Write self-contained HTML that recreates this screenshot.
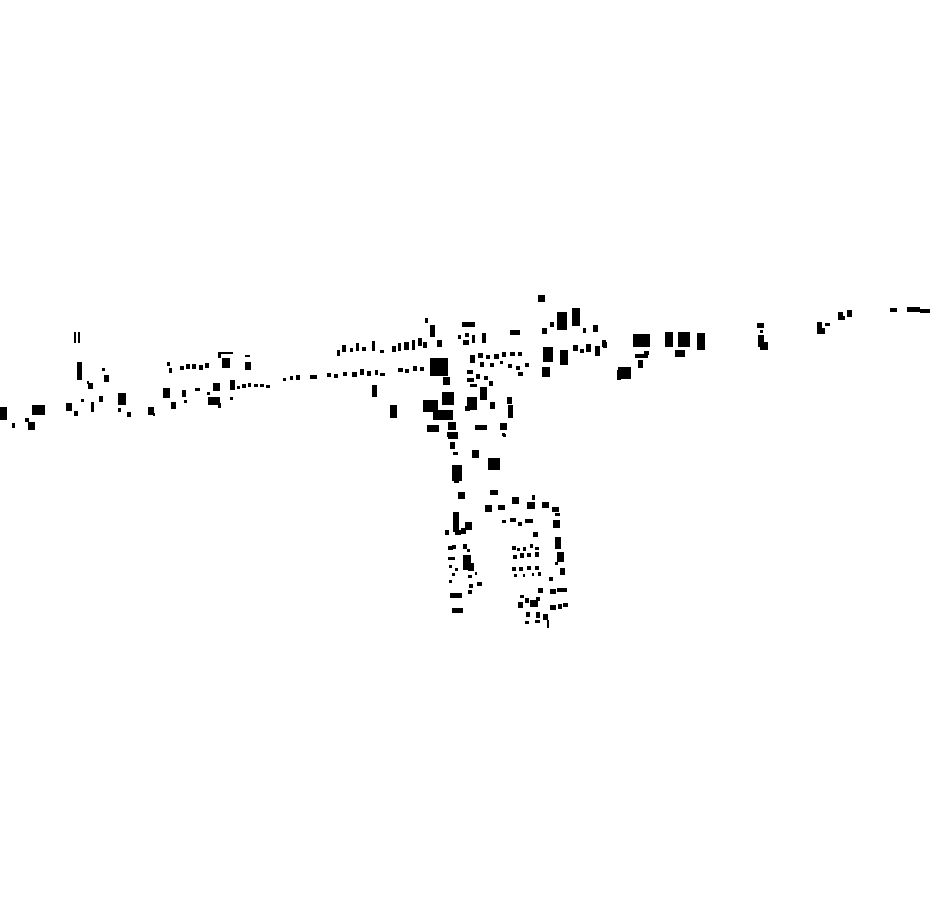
<!DOCTYPE html>
<html><head><style>html,body{margin:0;padding:0;background:#fff}svg{display:block}</style></head>
<body>
<svg width="930" height="924" viewBox="0 0 930 924" xmlns="http://www.w3.org/2000/svg">
<rect width="930" height="924" fill="#fff"/>
<g fill="#000">
<!-- left -->
<rect x="74" y="332" width="2" height="11"/><rect x="78" y="332" width="2" height="11"/>
<rect x="77" y="362" width="5" height="18"/><rect x="87" y="381" width="2" height="3"/><rect x="88" y="383" width="5" height="6"/>
<rect x="102" y="368" width="3" height="3"/><rect x="104" y="375" width="5" height="7"/>
<rect x="0" y="407" width="7" height="13"/><rect x="12" y="423" width="3" height="5"/>
<rect x="32" y="405" width="13" height="10"/><rect x="25" y="418" width="4" height="4"/><rect x="28" y="422" width="7" height="8"/>
<rect x="66" y="403" width="6" height="8"/><rect x="74" y="411" width="4" height="5"/><rect x="81" y="399" width="3" height="3"/>
<rect x="91" y="402" width="3" height="10"/><rect x="99" y="396" width="4" height="6"/>
<rect x="118" y="393" width="8" height="12"/><rect x="118" y="408" width="3" height="4"/><rect x="127" y="412" width="4" height="5"/>
<rect x="148" y="407" width="6" height="8"/><rect x="153" y="413" width="2" height="3"/>
<rect x="163" y="388" width="7" height="10"/><rect x="171" y="402" width="5" height="7"/>
<rect x="182" y="390" width="4" height="7"/><rect x="184" y="400" width="3" height="3"/>
<rect x="195" y="388" width="5" height="3"/><rect x="207" y="392" width="3" height="3"/>
<rect x="208" y="397" width="12" height="8"/><rect x="218" y="403" width="3" height="5"/><rect x="213" y="383" width="7" height="8"/>
<rect x="230" y="380" width="5" height="10"/><rect x="230" y="397" width="3" height="3"/>
<rect x="237" y="386" width="3" height="3"/><rect x="242" y="384" width="4" height="4"/><rect x="248" y="383" width="3" height="4"/><rect x="254" y="384" width="4" height="3"/><rect x="260" y="384" width="4" height="3"/><rect x="266" y="385" width="4" height="3"/>
<rect x="283" y="378" width="3" height="3"/><rect x="290" y="376" width="3" height="4"/><rect x="296" y="375" width="4" height="5"/>
<rect x="310" y="375" width="7" height="4"/>
<rect x="167" y="362" width="3" height="4"/><rect x="169" y="368" width="3" height="5"/>
<rect x="180" y="366" width="4" height="4"/><rect x="186" y="364" width="4" height="5"/><rect x="192" y="364" width="4" height="5"/><rect x="199" y="365" width="4" height="5"/><rect x="205" y="363" width="4" height="5"/>
<rect x="218" y="352" width="15" height="2"/><rect x="218" y="353" width="3" height="5"/><rect x="222" y="358" width="8" height="10"/>
<rect x="245" y="355" width="5" height="2"/><rect x="245" y="362" width="6" height="8"/>
<!-- middle -->
<rect x="538" y="295" width="7" height="7"/>
<rect x="557" y="312" width="10" height="18"/><rect x="572" y="308" width="8" height="18"/><rect x="550" y="322" width="4" height="5"/><rect x="542" y="328" width="5" height="6"/><rect x="583" y="328" width="3" height="5"/><rect x="593" y="325" width="5" height="7"/>
<rect x="462" y="322" width="13" height="5"/>
<rect x="425" y="318" width="3" height="5"/><rect x="430" y="325" width="5" height="12"/><rect x="437" y="340" width="5" height="7"/>
<rect x="337" y="350" width="3" height="6"/><rect x="342" y="345" width="4" height="7"/><rect x="350" y="348" width="3" height="4"/><rect x="356" y="343" width="3" height="8"/><rect x="362" y="347" width="4" height="4"/><rect x="372" y="341" width="3" height="10"/><rect x="380" y="350" width="4" height="3"/>
<rect x="392" y="346" width="4" height="6"/><rect x="398" y="343" width="3" height="8"/><rect x="404" y="342" width="5" height="8"/><rect x="412" y="340" width="3" height="10"/><rect x="418" y="338" width="4" height="8"/><rect x="423" y="342" width="4" height="6"/>
<rect x="327" y="373" width="4" height="4"/><rect x="334" y="374" width="4" height="4"/><rect x="343" y="372" width="4" height="4"/><rect x="352" y="372" width="5" height="5"/><rect x="360" y="369" width="4" height="6"/><rect x="367" y="371" width="4" height="5"/><rect x="375" y="370" width="3" height="5"/><rect x="380" y="373" width="5" height="3"/><rect x="398" y="368" width="5" height="4"/><rect x="405" y="369" width="4" height="4"/><rect x="413" y="366" width="4" height="5"/><rect x="420" y="367" width="4" height="4"/>
<rect x="430" y="358" width="18" height="18"/><rect x="443" y="377" width="7" height="8"/>
<rect x="372" y="385" width="5" height="12"/><rect x="390" y="405" width="7" height="13"/>
<rect x="423" y="400" width="15" height="12"/><rect x="442" y="392" width="12" height="13"/><rect x="433" y="410" width="20" height="10"/><rect x="427" y="425" width="12" height="7"/><rect x="448" y="422" width="8" height="8"/><rect x="447" y="432" width="10" height="5"/>
<rect x="458" y="335" width="3" height="4"/><rect x="465" y="333" width="4" height="4"/><rect x="463" y="340" width="6" height="5"/><rect x="472" y="335" width="3" height="8"/><rect x="482" y="333" width="4" height="10"/>
<rect x="470" y="355" width="5" height="8"/><rect x="478" y="353" width="5" height="5"/><rect x="486" y="355" width="4" height="4"/><rect x="494" y="354" width="5" height="5"/><rect x="502" y="352" width="4" height="5"/><rect x="510" y="352" width="5" height="4"/><rect x="518" y="352" width="4" height="4"/><rect x="480" y="362" width="4" height="5"/><rect x="490" y="363" width="4" height="4"/><rect x="500" y="361" width="3" height="3"/><rect x="508" y="364" width="4" height="4"/><rect x="516" y="366" width="4" height="4"/><rect x="525" y="363" width="4" height="4"/><rect x="518" y="372" width="5" height="4"/>
<rect x="467" y="370" width="6" height="4"/><rect x="467" y="378" width="7" height="4"/><rect x="476" y="374" width="4" height="5"/><rect x="484" y="376" width="4" height="4"/><rect x="470" y="384" width="7" height="3"/><rect x="489" y="381" width="4" height="5"/>
<rect x="480" y="387" width="7" height="13"/><rect x="467" y="397" width="10" height="13"/><rect x="465" y="406" width="5" height="5"/>
<rect x="490" y="402" width="5" height="7"/><rect x="507" y="397" width="5" height="7"/><rect x="508" y="405" width="5" height="13"/>
<rect x="475" y="425" width="12" height="5"/><rect x="500" y="423" width="7" height="7"/><rect x="503" y="434" width="3" height="3"/>
<rect x="510" y="330" width="10" height="5"/>
<rect x="543" y="347" width="10" height="15"/><rect x="560" y="350" width="8" height="15"/><rect x="573" y="345" width="5" height="6"/><rect x="580" y="349" width="4" height="4"/><rect x="586" y="344" width="5" height="8"/><rect x="595" y="346" width="5" height="10"/><rect x="603" y="342" width="4" height="6"/>
<rect x="542" y="367" width="8" height="10"/><rect x="617" y="370" width="4" height="10"/>
<!-- bottom -->
<rect x="448" y="432" width="10" height="7"/><rect x="450" y="442" width="5" height="7"/><rect x="453" y="452" width="5" height="3"/><rect x="472" y="450" width="7" height="8"/>
<rect x="488" y="458" width="12" height="12"/><rect x="502" y="433" width="3" height="3"/>
<rect x="452" y="465" width="10" height="16"/><rect x="454" y="480" width="5" height="3"/>
<rect x="458" y="492" width="7" height="7"/><rect x="490" y="490" width="8" height="5"/>
<rect x="485" y="505" width="7" height="7"/><rect x="498" y="505" width="7" height="5"/><rect x="512" y="497" width="7" height="7"/><rect x="527" y="502" width="8" height="7"/><rect x="532" y="495" width="3" height="5"/><rect x="542" y="502" width="7" height="6"/><rect x="552" y="507" width="7" height="5"/>
<rect x="453" y="512" width="6" height="20"/><rect x="465" y="522" width="7" height="8"/><rect x="445" y="530" width="4" height="5"/><rect x="455" y="530" width="6" height="5"/><rect x="461" y="528" width="5" height="6"/>
<rect x="502" y="520" width="4" height="3"/><rect x="510" y="518" width="6" height="4"/><rect x="518" y="522" width="4" height="4"/><rect x="525" y="519" width="8" height="4"/>
<rect x="555" y="513" width="5" height="3"/><rect x="553" y="520" width="7" height="8"/><rect x="533" y="532" width="5" height="5"/>
<rect x="555" y="537" width="6" height="12"/><rect x="557" y="552" width="7" height="10"/><rect x="555" y="562" width="3" height="3"/><rect x="560" y="568" width="5" height="7"/>
<rect x="448" y="546" width="5" height="4"/><rect x="452" y="545" width="4" height="4"/><rect x="463" y="544" width="4" height="5"/><rect x="467" y="549" width="3" height="3"/>
<rect x="463" y="555" width="8" height="15"/><rect x="468" y="563" width="6" height="8"/>
<rect x="448" y="557" width="7" height="3"/><rect x="449" y="565" width="3" height="3"/><rect x="452" y="573" width="3" height="3"/><rect x="455" y="568" width="3" height="3"/><rect x="449" y="580" width="3" height="3"/>
<rect x="468" y="575" width="4" height="3"/><rect x="475" y="572" width="2" height="3"/><rect x="469" y="584" width="4" height="4"/><rect x="477" y="582" width="5" height="4"/>
<rect x="512" y="546" width="4" height="4"/><rect x="517" y="548" width="3" height="3"/><rect x="523" y="547" width="3" height="4"/><rect x="530" y="544" width="3" height="4"/><rect x="535" y="547" width="4" height="3"/>
<rect x="513" y="555" width="4" height="4"/><rect x="520" y="553" width="4" height="5"/><rect x="527" y="553" width="4" height="4"/><rect x="535" y="552" width="4" height="5"/>
<rect x="512" y="567" width="4" height="4"/><rect x="519" y="567" width="4" height="4"/><rect x="527" y="566" width="4" height="4"/><rect x="535" y="566" width="4" height="4"/>
<rect x="514" y="574" width="3" height="3"/><rect x="523" y="574" width="2" height="3"/><rect x="532" y="573" width="2" height="3"/><rect x="538" y="572" width="3" height="4"/>
<rect x="450" y="593" width="12" height="5"/><rect x="452" y="608" width="11" height="5"/><rect x="468" y="590" width="4" height="4"/>
<rect x="549" y="577" width="4" height="4"/><rect x="538" y="588" width="5" height="5"/><rect x="550" y="589" width="6" height="5"/><rect x="557" y="588" width="10" height="4"/>
<rect x="520" y="595" width="4" height="3"/><rect x="518" y="602" width="5" height="6"/><rect x="525" y="598" width="4" height="5"/><rect x="530" y="600" width="8" height="7"/><rect x="536" y="597" width="4" height="4"/>
<rect x="550" y="605" width="6" height="5"/><rect x="558" y="604" width="4" height="5"/><rect x="563" y="603" width="5" height="4"/>
<rect x="526" y="612" width="4" height="5"/><rect x="525" y="621" width="4" height="3"/><rect x="536" y="612" width="4" height="6"/><rect x="535" y="620" width="5" height="3"/><rect x="543" y="614" width="5" height="6"/><rect x="547" y="620" width="2" height="8"/>
<!-- right -->
<rect x="602" y="340" width="4" height="7"/>
<rect x="633" y="334" width="17" height="13"/><rect x="635" y="354" width="13" height="4"/><rect x="638" y="360" width="5" height="8"/><rect x="618" y="367" width="13" height="12"/><rect x="644" y="351" width="5" height="4"/>
<rect x="665" y="332" width="8" height="15"/><rect x="678" y="332" width="12" height="15"/><rect x="675" y="350" width="10" height="7"/><rect x="697" y="333" width="8" height="17"/>
<rect x="757" y="323" width="7" height="5"/><rect x="760" y="330" width="3" height="3"/><rect x="758" y="335" width="6" height="12"/><rect x="760" y="342" width="8" height="8"/>
<rect x="817" y="322" width="5" height="12"/><rect x="820" y="328" width="5" height="6"/><rect x="825" y="323" width="5" height="3"/>
<rect x="838" y="312" width="5" height="8"/><rect x="842" y="316" width="3" height="4"/><rect x="847" y="310" width="5" height="7"/>
<rect x="890" y="308" width="7" height="4"/><rect x="907" y="307" width="13" height="5"/><rect x="920" y="309" width="10" height="4"/>
</g>
</svg>
</body></html>
